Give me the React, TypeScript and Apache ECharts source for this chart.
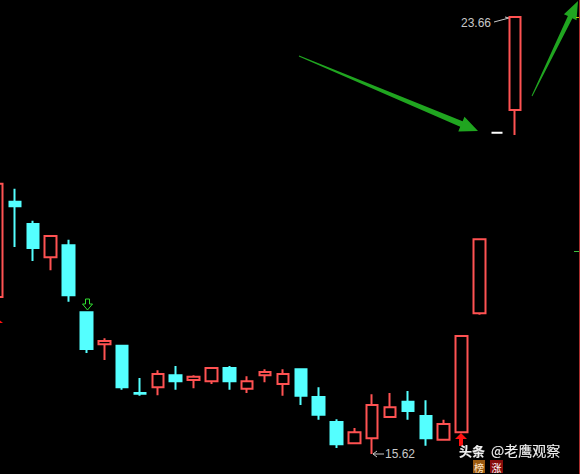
import React, { useEffect, useRef } from "react";
import * as echarts from "echarts";

const categories = Array.from({ length: 30 }, (_, i) => `D${i + 1}`);
const opens = [18.51, 20.26, 19.85, 19.24, 19.46, 18.23, 17.64, 17.61, 16.74, 16.85, 17.07, 16.98, 16.96, 17.2, 16.82, 17.07, 16.91, 17.18, 16.67, 16.21, 15.82, 15.91, 16.3, 16.58, 16.32, 15.88, 16.02, 18.21, 21.53, 21.95];
const closes = [20.59, 20.18, 19.41, 19.63, 18.54, 17.55, 17.7, 16.85, 16.73, 17.09, 16.96, 17.04, 17.2, 16.96, 16.96, 17.13, 17.09, 16.69, 16.34, 15.8, 16.02, 16.52, 16.48, 16.41, 15.91, 16.17, 17.79, 19.57, 21.53, 23.66];
const lows = [18.51, 19.43, 19.17, 19.0, 18.42, 17.48, 17.35, 16.8, 16.69, 16.7, 16.8, 16.83, 16.91, 16.8, 16.74, 16.94, 16.69, 16.52, 16.25, 15.73, 15.82, 15.62, 16.3, 16.25, 15.77, 15.88, 16.02, 18.18, 21.53, 21.49];
const highs = [20.59, 20.5, 19.91, 19.63, 19.56, 18.23, 17.75, 17.61, 17.02, 17.16, 17.24, 17.07, 17.2, 17.24, 17.05, 17.18, 17.18, 17.18, 16.85, 16.26, 16.1, 16.72, 16.74, 16.78, 16.61, 16.25, 17.79, 19.57, 21.53, 23.66];
const flatIndex = 28;
const maxLabel = "23.66";
const minLabel = "15.62";

const RED = "#ff5252";
const CYAN = "#54ffff";
const SHIFT = 12;

export default function App() {
  const ref = useRef<HTMLDivElement>(null);
  useEffect(() => {
    if (!ref.current) return;
    const chart = echarts.init(ref.current, null, { renderer: "svg" });
    const data = categories.map((_, i) => {
      const v = [opens[i], closes[i], lows[i], highs[i]];
      if (i === flatIndex) {
        return { value: v, itemStyle: { color: "#ffffff", color0: "#ffffff", borderColor: "#ffffff", borderColor0: "#ffffff" } };
      }
      return v;
    });
    const txt = { fill: "#c8c8c8", fontSize: 12, fontFamily: "Liberation Sans" };
    chart.setOption({
      animation: false,
      backgroundColor: "#000000",
      grid: { left: 0.21, right: 56, top: 0, bottom: 0 },
      xAxis: { type: "category", data: categories, show: false, boundaryGap: true },
      yAxis: { type: "value", min: 15.252, max: 23.973, show: false, scale: true },
      series: [
        {
          type: "candlestick",
          data,
          barWidth: 12,
          itemStyle: {
            color: "rgba(0,0,0,0)",
            color0: CYAN,
            borderColor: RED,
            borderColor0: CYAN,
            borderWidth: 2,
          },
        },
      ],
      graphic: [
        {
          type: "group",
          x: SHIFT,
          y: 0,
          children: [
            {
              type: "polygon",
              shape: { points: [[299.2, 55.5], [462.6, 121.3], [464.5, 116.7], [478, 131], [458.3, 131.4], [460.2, 126.8], [298.8, 56.5]] },
              style: { fill: "#20a520" },
            },
            {
              type: "polygon",
              shape: { points: [[531.6, 95.8], [567.9, 16.1], [563.9, 14.2], [578, 1], [576.5, 20.3], [572.4, 18.3], [532.4, 96.2]] },
              style: { fill: "#20a520" },
            },
            {
              type: "polygon",
              shape: { points: [[85.5, 299], [89.5, 299], [89.5, 304], [92.5, 304], [87.5, 310], [82.5, 304], [85.5, 304]] },
              style: { fill: "none", stroke: "#30e030", lineWidth: 1 },
            },
            {
              type: "polygon",
              shape: { points: [[461, 433], [467, 439], [463, 439], [463, 446], [459, 446], [459, 439], [455, 439]] },
              style: { fill: "#ff1010" },
            },
            {
              type: "polygon",
              shape: { points: [[-3, 318], [3, 323], [-3, 323]] },
              style: { fill: "#ff1010" },
            },
            { type: "text", x: 461, y: 23, style: { ...txt, text: maxLabel, verticalAlign: "middle" } },
            { type: "line", shape: { x1: 494, y1: 22, x2: 509, y2: 18 }, style: { stroke: "#c8c8c8", lineWidth: 1 } },
            { type: "line", shape: { x1: 509, y1: 18, x2: 505, y2: 17 }, style: { stroke: "#c8c8c8", lineWidth: 1 } },
            { type: "line", shape: { x1: 373, y1: 454, x2: 384, y2: 454 }, style: { stroke: "#c8c8c8", lineWidth: 1 } },
            { type: "line", shape: { x1: 373, y1: 454, x2: 377, y2: 451 }, style: { stroke: "#c8c8c8", lineWidth: 1 } },
            { type: "line", shape: { x1: 373, y1: 454, x2: 377, y2: 457 }, style: { stroke: "#c8c8c8", lineWidth: 1 } },
            { type: "text", x: 385, y: 454, style: { ...txt, text: minLabel, verticalAlign: "middle" } },
            { type: "line", shape: { x1: 579.5, y1: 0, x2: 579.5, y2: 474 }, style: { stroke: "#b03030", lineWidth: 1 } },
            { type: "line", shape: { x1: 574, y1: 251.5, x2: 579, y2: 251.5 }, style: { stroke: "#40c040", lineWidth: 1 } },
            { type: "line", shape: { x1: 576, y1: 17.5, x2: 579, y2: 17.5 }, style: { stroke: "#c0c000", lineWidth: 1 } },
            {
              type: "text", x: 459, y: 450,
              style: { text: "头条", fill: "#eeeeee", fontSize: 13, lineHeight: 14, fontWeight: "bold", fontFamily: "Noto Sans CJK SC", verticalAlign: "middle", textShadowColor: "#000", textShadowBlur: 2 },
            },
            {
              type: "text", x: 491, y: 450,
              style: { text: "@老鹰观察", fill: "#eeeeee", fontSize: 14, lineHeight: 14, fontFamily: "Noto Sans CJK SC", verticalAlign: "middle", textShadowColor: "#000", textShadowBlur: 2 },
            },
            { type: "rect", shape: { x: 473, y: 460, width: 12, height: 13 }, style: { fill: "#9a5a10" } },
            { type: "text", x: 479, y: 467, style: { text: "榜", fill: "#ffe8c8", fontSize: 10, lineHeight: 11, fontFamily: "Noto Sans CJK SC", align: "center", verticalAlign: "middle" } },
            { type: "rect", shape: { x: 490, y: 460, width: 13, height: 13 }, style: { fill: "#880c0c" } },
            { type: "text", x: 496.5, y: 467, style: { text: "涨", fill: "#ffffff", fontSize: 10, lineHeight: 11, fontFamily: "Noto Sans CJK SC", align: "center", verticalAlign: "middle" } },
          ],
        },
      ],
    });
    return () => chart.dispose();
  }, []);
  return <div ref={ref} style={{ position: "fixed", left: -SHIFT, top: 0, width: 580 + SHIFT, height: 474 }} />;
}
